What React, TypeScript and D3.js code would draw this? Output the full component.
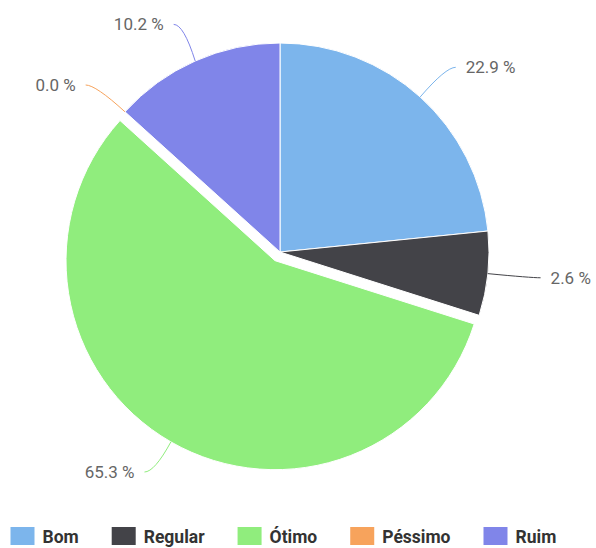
import React from 'react';
import * as d3 from 'd3';

// slice sizes, labels as printed on the chart
const categories = ['Bom', 'Regular', 'Ótimo', 'Péssimo', 'Ruim'];
const sliceValues = [23.4, 6.5, 56.8, 0, 13.3];
const labelValues = [22.9, 2.6, 65.3, 0.0, 10.2];
const colors = ['#7cb5ec', '#434348', '#90ed7d', '#f7a35c', '#8085e9'];
const slicedCategory = 'Ótimo';

const W = 596;
const H = 548;
const cx = 280;
const cy = 252;
const radius = 209;
// labels sit on a slightly flattened ring around the pie
const labelRadiusX = 262;
const labelRadiusY = 249;
const slicedOffset = 10;
const plotTop = 22;
const plotBottom = 472;

const fontFamily = 'Roboto, "Noto Sans", sans-serif';

const measure = (() => {
  let ctx: CanvasRenderingContext2D | null = null;
  return (text: string, font: string) => {
    if (!ctx) ctx = document.createElement('canvas').getContext('2d');
    if (!ctx) return text.length * 8;
    ctx.font = font;
    return ctx.measureText(text).width;
  };
})();

const App = () => {
  const pie = d3
    .pie<number>()
    .sort(null)
    .value((d) => d)
    .startAngle(0)
    .endAngle(2 * Math.PI);
  const arcs = pie(sliceValues);
  const arc = d3.arc<d3.PieArcDatum<number>>().innerRadius(0).outerRadius(radius);

  const slices = arcs.map((a, i) => {
    const mid = (a.startAngle + a.endAngle) / 2;
    const sin = Math.sin(mid);
    const cos = Math.cos(mid);
    const off = categories[i] === slicedCategory ? slicedOffset : 0;
    const dx = off * sin;
    const dy = -off * cos;
    const sx = cx + dx + radius * sin;
    const sy = cy + dy - radius * cos;
    const ex = cx + dx + labelRadiusX * sin;
    const ey = Math.max(plotTop, Math.min(plotBottom, cy + dy - labelRadiusY * cos));
    const side = sin >= 0 ? 1 : -1;
    return { a, i, dx, dy, sx, sy, ex, ey, side };
  });

  // legend layout, items follow each other with measured text widths
  const legendSize = 17.5;
  const legendFont = `bold ${legendSize}px ${fontFamily}`;
  let lx = 10.5;
  const legend = categories.map((c, i) => {
    const item = { c, i, x: lx };
    lx += 24 + 8 + measure(c, legendFont) + 33;
    return item;
  });

  return (
    <svg
      width={W}
      height={H}
      style={{ position: 'absolute', left: 0, top: 0, background: '#fff' }}
    >
      <g>
        {slices.map(({ a, i, dx, dy }) => (
          <path
            key={categories[i]}
            d={arc(a) || ''}
            transform={`translate(${cx + dx},${cy + dy})`}
            fill={colors[i]}
            stroke="#ffffff"
            strokeWidth={1}
            strokeLinejoin="round"
          />
        ))}
      </g>
      <g>
        {slices.map(({ i, sx, sy, ex, ey, side }) => (
          <g key={`lab-${categories[i]}`}>
            <path
              d={`M${sx},${sy} Q${ex - side * 10},${ey} ${ex},${ey}`}
              fill="none"
              stroke={colors[i]}
              strokeWidth={1}
            />
            <text
              x={ex + side * 10}
              y={ey}
              dy="0.35em"
              textAnchor={side > 0 ? 'start' : 'end'}
              fontFamily={fontFamily}
              fontSize={17}
              fill="#666666"
            >
              {`${labelValues[i].toFixed(1)} %`}
            </text>
          </g>
        ))}
      </g>
      <g>
        {legend.map(({ c, i, x }) => (
          <g key={`leg-${c}`}>
            <rect x={x} y={527} width={24} height={18} fill={colors[i]} />
            <text
              x={x + 32}
              y={543}
              fontFamily={fontFamily}
              fontWeight="bold"
              fontSize={legendSize}
              fill="#333333"
            >
              {c}
            </text>
          </g>
        ))}
      </g>
    </svg>
  );
};

export default App;
